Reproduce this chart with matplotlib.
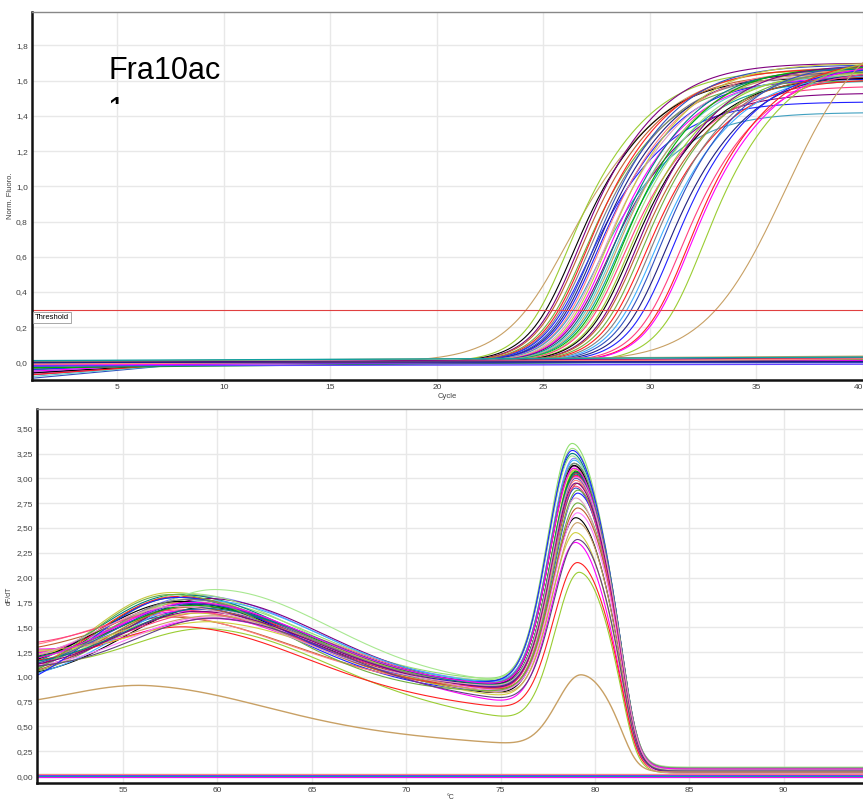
import numpy as np
import matplotlib
matplotlib.use("Agg")
import matplotlib.pyplot as plt
from matplotlib.ticker import FuncFormatter
from matplotlib.transforms import Bbox

plt.rcParams['font.family'] = ['Liberation Sans', 'DejaVu Sans']

# colours used by the cycler software
pal = ['#c8a064', '#9acd32', '#ff2020', '#2020ff', '#ff00ff', '#10a0a0', '#000000',
       '#808080', '#ff8080', '#8080ff', '#00b000', '#800080', '#40b0ff', '#ff80ff',
       '#008080', '#a0e080', '#c06030', '#3050c0', '#e0a0c0', '#60c8c8', '#ff4080',
       '#70b040', '#202080', '#c8c840']

# --- amplification curves (threshold crossing, plateau, lower / upper steepness, start offset)
amp_ct = [24.3, 25.0, 25.3, 25.5, 25.6, 25.8, 25.9, 26.0, 26.1, 26.2, 26.3, 26.4, 26.5,
          26.6, 26.7, 26.8, 26.9, 27.0, 27.1, 27.2, 27.3, 27.4, 27.5, 27.6, 27.7, 27.9,
          28.0, 28.2, 28.3, 28.5, 28.7, 28.9, 29.1, 29.3, 29.6, 29.9, 30.3, 30.6, 30.7,
          31.3, 33.1]
amp_plateau = [1.68, 1.66, 1.62, 1.70, 1.64, 1.60, 1.67, 1.63, 1.48, 1.69, 1.65, 1.61,
               1.66, 1.42, 1.64, 1.70, 1.62, 1.53, 1.67, 1.63, 1.66, 1.60, 1.68, 1.64,
               1.57, 1.65, 1.62, 1.69, 1.63, 1.66, 1.61, 1.67, 1.64, 1.70, 1.65, 1.68,
               1.66, 1.72, 1.70, 1.74, 1.95]
amp_s_lo = [1.67] + [1.2] * 39 + [1.9]
amp_s_hi = [2.3] + [1.9] * 39 + [1.9]
amp_b0 = [-0.02, -0.05, -0.01, -0.07, -0.03, 0.0, -0.04, -0.06, -0.02, -0.09, -0.01,
          -0.03, -0.05, -0.02, -0.04, 0.01, -0.06, -0.03, -0.02, -0.08, -0.01, -0.04,
          -0.03, -0.05, 0.0, -0.02, -0.06, -0.03, -0.01, -0.04, -0.07, -0.02, -0.05,
          -0.03, 0.0, -0.04, -0.02, -0.01, -0.05, -0.03, -0.02]
amp_colors = ['#c8a064'] + [pal[(i * 5 + 1) % len(pal)] for i in range(39)] + ['#c8a064']
amp_colors[36] = '#ff4080'
amp_colors[37] = '#ff2020'
amp_colors[38] = '#ff00ff'
amp_colors[39] = '#9acd32'
amp_colors[13] = '#40a0c0'
amp_colors[8] = '#2020ff'
amp_colors[17] = '#800080'

# negative controls (value at cycle 1 and cycle 40)
neg_start = [-0.02, -0.01, 0.0, -0.03, 0.005, -0.015, -0.005, 0.01, -0.02, -0.01, 0.0]
neg_end = [0.03, 0.025, 0.02, 0.015, 0.035, 0.01, 0.0, 0.03, -0.01, 0.02, 0.005]
neg_colors = ['#2020ff', '#ff2020', '#800080', '#00b000', '#c8a064', '#ff00ff',
              '#3050c0', '#10a0a0', '#6040ff', '#ff8080', '#202080']

# --- melt curves (value at 50.5, hump top, hump centre, value at 75, peak top, Tm, tail)
melt_v0 = [1.22, 1.15, 1.30, 1.10, 1.05, 1.18, 1.25, 1.12, 1.08, 1.20, 1.14, 1.28, 1.16,
           1.06, 1.24, 1.10, 1.19, 1.13, 1.33, 1.09, 1.21, 1.17, 1.04, 1.26, 1.11, 1.15,
           1.07, 1.23, 1.18, 1.12, 1.35, 1.02, 1.20, 1.14, 1.27, 1.10, 1.16, 1.08, 1.19,
           1.13, 1.22, 1.11]
melt_hump = [1.75, 1.82, 1.60, 1.85, 1.70, 1.78, 1.65, 1.72, 1.80, 1.68, 1.76, 1.58, 1.83,
             1.74, 1.66, 1.79, 1.71, 1.48, 1.62, 1.84, 1.73, 1.50, 1.77, 1.55, 1.81, 1.88,
             1.70, 1.64, 1.76, 1.60, 1.67, 1.80, 1.72, 1.74, 1.61, 1.78, 1.69, 1.83, 1.75,
             1.66, 1.71, 1.59]
melt_hc = [58.5, 59.0, 58.0, 57.5, 59.5, 58.8, 60.0, 58.2, 57.8, 59.2, 58.6, 60.5, 58.0,
           59.0, 58.4, 59.6, 58.9, 60.0, 57.6, 58.3, 59.1, 58.7, 59.4, 60.2, 57.9, 60.0,
           58.5, 59.3, 58.1, 59.8, 58.6, 57.7, 59.0, 58.8, 60.3, 58.4, 59.5, 57.5, 58.9,
           59.2, 58.0, 60.1]
melt_v75 = [0.88, 0.92, 0.85, 0.90, 0.80, 0.95, 0.87, 0.83, 0.91, 0.86, 0.89, 0.72, 0.93,
            0.84, 0.90, 0.88, 0.82, 0.57, 0.86, 0.94, 0.89, 0.68, 0.91, 0.78, 0.87, 0.92,
            0.85, 0.88, 0.90, 0.83, 0.86, 0.93, 0.89, 0.87, 0.80, 0.91, 0.88, 0.84, 0.90,
            0.86, 0.89, 0.75]
melt_peak = [3.05, 3.20, 2.95, 3.10, 2.60, 3.35, 3.00, 2.85, 3.15, 2.90, 3.08, 2.35, 3.25,
             2.75, 3.02, 3.12, 2.80, 2.05, 2.98, 3.30, 3.06, 2.15, 3.18, 2.45, 3.03, 3.22,
             2.70, 3.09, 3.13, 2.65, 2.92, 3.28, 3.07, 3.00, 2.55, 3.15, 3.04, 2.88, 3.10,
             2.95, 3.01, 2.38]
melt_tm = [79.0, 78.9, 79.1, 78.9, 79.0, 78.8, 79.0, 79.1, 78.9, 79.0, 78.9, 79.0, 78.8,
           79.1, 79.0, 78.9, 79.0, 79.2, 79.0, 78.8, 79.0, 79.1, 78.9, 79.0, 79.0, 78.8,
           79.1, 79.0, 78.9, 79.1, 79.0, 78.8, 79.0, 79.0, 79.1, 78.9, 79.0, 79.1, 78.9,
           79.0, 79.0, 79.1]
melt_tail = [0.05, 0.07, 0.04, 0.06, 0.08, 0.05, 0.03, 0.06, 0.07, 0.04, 0.05, 0.06, 0.08,
             0.05, 0.04, 0.07, 0.06, 0.03, 0.05, 0.08, 0.06, 0.04, 0.05, 0.07, 0.06, 0.09,
             0.04, 0.05, 0.06, 0.03, 0.07, 0.05, 0.06, 0.04, 0.05, 0.08, 0.06, 0.05, 0.07,
             0.04, 0.06, 0.05]
melt_colors = [pal[(i * 7 + 2) % len(pal)] for i in range(len(melt_v0))]
melt_colors[17] = '#9acd32'
melt_colors[21] = '#ff2020'
melt_colors[11] = '#ff00ff'
melt_colors[23] = '#d0d040'
melt_colors[5] = '#90e070'
melt_colors[25] = '#a8e890'
melt_colors[41] = '#604080'
melt_colors[29] = '#ff80ff'

# low brown sample
brown_melt = dict(v0=0.77, hump=0.91, hc=56.5, v75=0.33, peak=1.02, tm=79.3, tail=0.04)

melt_neg = [0.0, 0.01, -0.01, 0.02, 0.005, -0.005, 0.015, 0.0, 0.01, 0.025]
melt_neg_colors = ['#2020ff', '#ff2020', '#800080', '#00b000', '#c8a064', '#ff00ff',
                   '#202080', '#10a0a0', '#6040ff', '#ff8080']


def fmt(dec):
    return FuncFormatter(lambda v, p: f"{v:.{dec}f}".replace('.', ','))


def style(ax):
    ax.grid(True, color='#e8e8e8', lw=1.0)
    ax.set_axisbelow(True)
    ax.tick_params(length=0, labelsize=6, labelcolor='#404040', pad=3)
    for s in ['left', 'bottom']:
        ax.spines[s].set_linewidth(1.8)
        ax.spines[s].set_color('#111111')
    ax.spines['top'].set_color('#888888')
    ax.spines['top'].set_linewidth(1.0)
    ax.spines['right'].set_visible(False)


fig = plt.figure(figsize=(8.63, 8.02), dpi=100)

# ---------------- amplification plot
ax1 = fig.add_axes([32 / 863, 1 - 380 / 802, 1 - 32 / 863, 368 / 802])
style(ax1)
x = np.linspace(1, 40, 500)
for i in range(len(amp_ct)):
    P, ct = amp_plateau[i], amp_ct[i]
    x0 = ct + amp_s_lo[i] * np.log(P / 0.3 - 1)
    blend = 1 / (1 + np.exp(-(x - x0) / 1.2))
    s = amp_s_lo[i] + (amp_s_hi[i] - amp_s_lo[i]) * blend
    y = P / (1 + np.exp(-(x - x0) / s))
    y = y + amp_b0[i] * np.clip((9 - x) / 8, 0, 1)
    ax1.plot(x, y, color=amp_colors[i], lw=0.8)
for i in range(len(neg_start)):
    ax1.plot([1, 40], [neg_start[i], neg_end[i]], color=neg_colors[i], lw=1.0)
ax1.axhline(0.3, color='#e04040', lw=0.8)
ax1.text(1.15, 0.255, 'Threshold', fontsize=5.5, va='center', ha='left',
         bbox=dict(boxstyle='square,pad=0.25', fc='white', ec='#999999', lw=0.6))
ax1.set_xlim(1, 40)
ax1.set_ylim(-0.1, 1.99)
ax1.set_xticks(np.arange(5, 41, 5))
ax1.set_yticks(np.arange(0, 1.81, 0.2))
ax1.yaxis.set_major_formatter(fmt(1))
ax1.get_xticklabels()[-1].set_ha('right')
ax1.set_xlabel('Cycle', fontsize=5.5, labelpad=1, color='#404040')
ax1.set_ylabel('Norm. Fluoro.', fontsize=5.5, color='#404040')
ax1.yaxis.set_label_coords(-18 / 831, 0.5)

fig.text(108 / 863, 1 - 79 / 802, 'Fra10ac', fontsize=22, va='baseline', ha='left')
t = fig.text(108 / 863, 1 - 119 / 802, '1', fontsize=22, va='baseline', ha='left')
t.set_clip_box(Bbox.from_extents(100, 802 - 104, 140, 802 - 88))
t.set_clip_on(True)

# ---------------- melt plot
ax2 = fig.add_axes([37 / 863, 1 - 783 / 802, 1 - 37 / 863, 374 / 802])
style(ax2)
T = np.linspace(50.4, 94.3, 900)


def melt_curve(v0, hump, hc, v75, peak, tm, tail):
    g0 = np.exp(-(hc - 50.5) ** 2 / (2 * 4.4 ** 2))
    f = (hc - 50.5) / 24.5
    H = (hump - v0 * (1 - f) - v75 * f) / (1 - g0 * (1 - f))
    l0 = v0 - H * g0
    lin = l0 + (v75 - l0) * (T - 50.5) / 24.5
    w = np.where(T < hc, 4.4, 6.0)
    bg = lin + H * np.exp(-(T - hc) ** 2 / (2 * w ** 2))
    sig = 1 / (1 + np.exp((T - 81.8) / 0.42))
    bg_tm = v75 + (v75 - l0) * (tm - 75) / 24.5
    sig_tm = 1 / (1 + np.exp((tm - 81.8) / 0.42))
    pk = peak / sig_tm - bg_tm
    sw = np.where(T < tm, 1.3, 1.8)
    pkc = pk * np.exp(-(T - tm) ** 2 / (2 * sw ** 2))
    return (bg + pkc) * sig + tail * (1 - sig)


for i in range(len(melt_v0)):
    y = melt_curve(melt_v0[i], melt_hump[i], melt_hc[i], melt_v75[i], melt_peak[i],
                   melt_tm[i], melt_tail[i])
    ax2.plot(T, y, color=melt_colors[i], lw=0.8)
ax2.plot(T, melt_curve(**brown_melt), color='#c8a064', lw=1.0)
for i in range(len(melt_neg)):
    ax2.plot([50.4, 94.3], [melt_neg[i], melt_neg[i]], color=melt_neg_colors[i], lw=0.8)
ax2.set_xlim(50.44, 94.2)
ax2.set_ylim(-0.07, 3.70)
ax2.set_xticks(np.arange(55, 91, 5))
ax2.set_yticks(np.arange(0, 3.51, 0.25))
ax2.yaxis.set_major_formatter(fmt(2))
ax2.set_xlabel('°C', fontsize=5, labelpad=0, color='#404040')
ax2.set_ylabel('dF/dT', fontsize=5, color='#404040')
ax2.yaxis.set_label_coords(-24 / 826, 0.5)

fig.savefig('out.png', dpi=100)
